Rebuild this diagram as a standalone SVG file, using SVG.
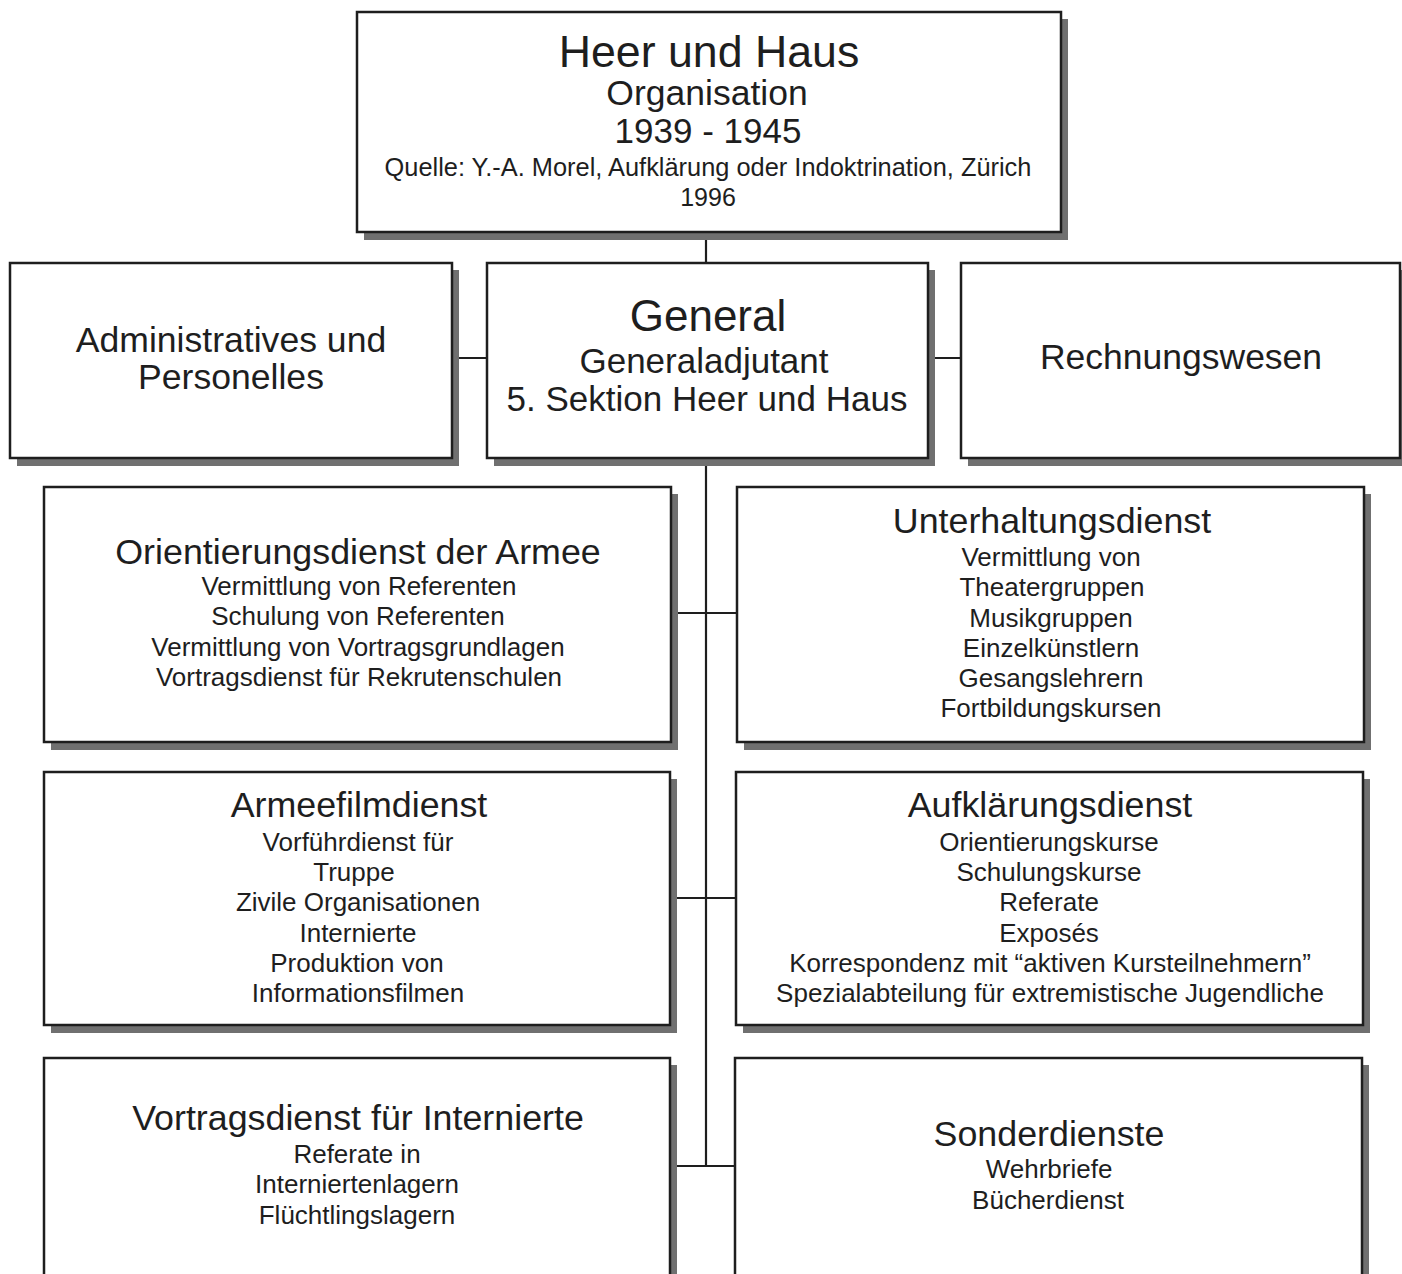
<svg xmlns="http://www.w3.org/2000/svg" width="1402" height="1274" viewBox="0 0 1402 1274">
<style>
.sh{fill:#707070}
.bx{fill:#fff;stroke:#1e1e1e;stroke-width:2.5}
.ln{stroke:#1e1e1e;stroke-width:2.2;fill:none}
text{font-family:"Liberation Sans",Arial,sans-serif;fill:#1e1e1e;text-anchor:middle}
.t{font-size:35.8px}
.s{font-size:26px}
</style>
<rect width="1402" height="1274" fill="#fff"/>
<g id="connectors">
<line class="ln" x1="706" y1="232" x2="706" y2="264"/>
<line class="ln" x1="452" y1="358" x2="487" y2="358"/>
<line class="ln" x1="928" y1="358" x2="961" y2="358"/>
<line class="ln" x1="706" y1="458" x2="706" y2="1166"/>
<line class="ln" x1="671" y1="613" x2="737" y2="613"/>
<line class="ln" x1="670" y1="898" x2="736" y2="898"/>
<line class="ln" x1="670" y1="1166" x2="735" y2="1166"/>
</g>
<g id="heer-und-haus">
<rect class="sh" x="364" y="19" width="704" height="221"/>
<rect class="bx" x="357" y="12" width="704" height="220"/>
<text x="709" y="67" style="font-size:44.7px">Heer und Haus</text>
<text x="707" y="105" style="font-size:35.5px">Organisation</text>
<text x="708" y="143" style="font-size:35px">1939 - 1945</text>
<text x="708" y="176" style="font-size:25.4px">Quelle: Y.-A. Morel, Aufklärung oder Indoktrination, Zürich</text>
<text x="708" y="206" style="font-size:25px">1996</text>
</g>
<g id="administratives">
<rect class="sh" x="17" y="270" width="442" height="196"/>
<rect class="bx" x="10" y="263" width="442" height="195"/>
<text x="231" y="352" style="font-size:35.6px">Administratives und</text>
<text x="231" y="389" style="font-size:35.6px">Personelles</text>
</g>
<g id="general">
<rect class="sh" x="494" y="270" width="441" height="196"/>
<rect class="bx" x="487" y="263" width="441" height="195"/>
<text x="708" y="331" style="font-size:44px">General</text>
<text x="704" y="373" style="font-size:35px">Generaladjutant</text>
<text x="707" y="411" style="font-size:35px">5. Sektion Heer und Haus</text>
</g>
<g id="rechnungswesen">
<rect class="sh" x="968" y="270" width="439" height="196"/>
<rect class="bx" x="961" y="263" width="439" height="195"/>
<text x="1181" y="369" style="font-size:35.5px">Rechnungswesen</text>
</g>
<g id="orientierungsdienst">
<rect class="sh" x="51" y="494" width="627" height="256"/>
<rect class="bx" x="44" y="487" width="627" height="255"/>
<text class="t" x="358" y="564">Orientierungsdienst der Armee</text>
<text class="s" x="359" y="595">Vermittlung von Referenten</text>
<text class="s" x="358" y="625">Schulung von Referenten</text>
<text class="s" x="358" y="656">Vermittlung von Vortragsgrundlagen</text>
<text class="s" x="359" y="686">Vortragsdienst für Rekrutenschulen</text>
</g>
<g id="unterhaltungsdienst">
<rect class="sh" x="744" y="494" width="627" height="256"/>
<rect class="bx" x="737" y="487" width="627" height="255"/>
<text class="t" x="1052" y="533">Unterhaltungsdienst</text>
<text class="s" x="1051" y="566">Vermittlung von</text>
<text class="s" x="1052" y="596">Theatergruppen</text>
<text class="s" x="1051" y="627">Musikgruppen</text>
<text class="s" x="1051" y="657">Einzelkünstlern</text>
<text class="s" x="1051" y="687">Gesangslehrern</text>
<text class="s" x="1051" y="717">Fortbildungskursen</text>
</g>
<g id="armeefilmdienst">
<rect class="sh" x="51" y="779" width="626" height="254"/>
<rect class="bx" x="44" y="772" width="626" height="253"/>
<text class="t" x="359" y="817">Armeefilmdienst</text>
<text class="s" x="358" y="851">Vorführdienst für</text>
<text class="s" x="354" y="881">Truppe</text>
<text class="s" x="358" y="911">Zivile Organisationen</text>
<text class="s" x="358" y="942">Internierte</text>
<text class="s" x="357" y="972">Produktion von</text>
<text class="s" x="358" y="1002">Informationsfilmen</text>
</g>
<g id="aufklaerungsdienst">
<rect class="sh" x="743" y="779" width="627" height="254"/>
<rect class="bx" x="736" y="772" width="627" height="253"/>
<text class="t" x="1050" y="817">Aufklärungsdienst</text>
<text class="s" x="1049" y="851">Orientierungskurse</text>
<text class="s" x="1049" y="881">Schulungskurse</text>
<text class="s" x="1049" y="911">Referate</text>
<text class="s" x="1049" y="942">Exposés</text>
<text class="s" x="1050" y="972">Korrespondenz mit “aktiven Kursteilnehmern”</text>
<text class="s" x="1050" y="1002">Spezialabteilung für extremistische Jugendliche</text>
</g>
<g id="vortragsdienst-internierte">
<rect class="sh" x="51" y="1065" width="626" height="230"/>
<rect class="bx" x="44" y="1058" width="626" height="230"/>
<text class="t" x="358" y="1130">Vortragsdienst für Internierte</text>
<text class="s" x="357" y="1163">Referate in</text>
<text class="s" x="357" y="1193">Interniertenlagern</text>
<text class="s" x="357" y="1224">Flüchtlingslagern</text>
</g>
<g id="sonderdienste">
<rect class="sh" x="742" y="1065" width="627" height="230"/>
<rect class="bx" x="735" y="1058" width="627" height="230"/>
<text class="t" x="1049" y="1146">Sonderdienste</text>
<text class="s" x="1049" y="1178">Wehrbriefe</text>
<text class="s" x="1048" y="1209">Bücherdienst</text>
</g>
</svg>
